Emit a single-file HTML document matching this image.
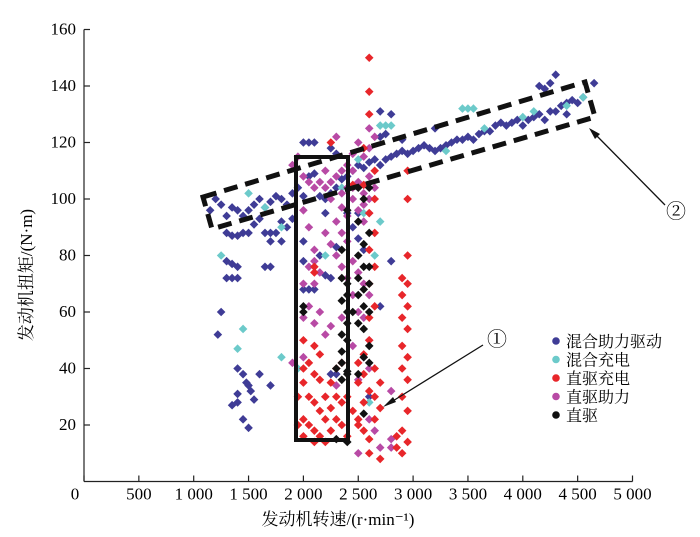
<!DOCTYPE html>
<html><head><meta charset="utf-8"><style>
html,body{margin:0;padding:0;background:#fff;}
svg{display:block;}
text{font-family:"Liberation Serif","Noto Serif CJK SC",serif;}
</style></head><body>
<svg id="chart" width="700" height="537" viewBox="0 0 700 537">
<g id="marks"></g>
<g id="axes"></g>
<rect x="296" y="157" width="52" height="283" fill="none" stroke="#111" stroke-width="4"/>
<polygon points="203,197 585,82 595,117 212,229" fill="none" stroke="#111" stroke-width="5" stroke-dasharray="14,8"/>
<text x="497" y="346" font-size="20" text-anchor="middle" font-family="DejaVu Sans, sans-serif">①</text>
<line x1="483" y1="345" x2="388" y2="404" stroke="#111" stroke-width="1.3"/>
<polygon points="383,407 393,397 396,402" fill="#111"/>
<text x="676" y="218" font-size="20" text-anchor="middle" font-family="DejaVu Sans, sans-serif">②</text>
<line x1="665" y1="205" x2="593" y2="132" stroke="#111" stroke-width="1.3"/>
<polygon points="589,128 600,134 595,139" fill="#111"/>
<g id="legend"></g>
<text transform="translate(32,275) rotate(-90)" font-size="17" text-anchor="middle">发动机扭矩/(N·m)</text>
<text x="338" y="525" font-size="17" text-anchor="middle">发动机转速/(r·min⁻¹)</text>
</svg>
<script>
const xTicks=[0,500,1000,1500,2000,2500,3000,3500,4000,4500,5000];
const xTickLabels=["0","500","1 000","1 500","2 000","2 500","3 000","3 500","4 000","4 500","5 000"];
const yTicks=[20,40,60,80,100,120,140,160];
const seriesNames=["混合助力驱动","混合充电","直驱充电","直驱助力","直驱"];
const seriesColors=["#3f3c96","#6ccaca","#e8262a","#b84aa5","#111111"];
const blue=[[1150,96],[1200,100],[1250,98],[1300,94],[1350,97],[1400,96],[1450,94],[1500,96],[1550,98],[1600,100],[1650,97],[1700,99],[1750,101],[1800,100],[1850,98],[1900,102],[1950,104],[2000,101],[1300,88],[1350,87],[1400,87],[1450,88],[1500,88],[1650,88],[1700,88],[1750,88],[1800,92],[1850,90],[1900,93],[1600,93],[1550,91],[1700,85],[1800,85],[2050,108],[2100,109],[2150,101],[2200,100],[2250,102],[2300,104],[2350,107],[2400,108],[2450,110],[2500,112],[2550,111],[2600,113],[2650,114],[2700,112],[2750,114],[2800,115],[2850,116],[2900,117],[2950,116],[3000,117],[3050,118],[3100,119],[3150,118],[3200,117],[3250,118],[3300,119],[3350,120],[3400,121],[3450,121],[3500,122],[3550,121],[3600,123],[3650,124],[3700,124],[3750,126],[3800,127],[3850,126],[3900,127],[3950,128],[4000,126],[4050,128],[4100,129],[4150,130],[4200,128],[4250,131],[4300,131],[4350,133],[4400,134],[4450,135],[4500,134],[4550,136],[4400,130],[4200,139],[4150,140],[4250,141],[4300,144],[4650,141],[2900,121],[3200,125],[2000,120],[2050,120],[2100,120],[2250,118],[2300,116],[2700,131],[2800,130],[2700,122],[2750,123],[1250,60],[1220,52],[1300,78],[1350,77],[1400,76],[1300,72],[1350,72],[1400,72],[1650,76],[1700,76],[1400,40],[1450,38],[1500,34],[1520,32],[1480,35],[1400,31],[1600,38],[1550,29],[1450,22],[1500,19],[1350,27],[1700,34],[1400,28],[2000,85],[2000,68],[2050,68],[2100,68],[2200,73],[2250,72],[2000,78],[2150,80],[2300,83],[2450,90],[2500,86],[2550,82],[2700,62],[2800,78],[2300,38],[2250,38],[2600,30],[2500,95],[2400,95],[2200,95]];
const cyan=[[1250,80],[1400,47],[1450,54],[1800,44],[1950,40],[1500,102],[1650,97],[3500,132],[3450,132],[3550,132],[2700,126],[2750,126],[2800,126],[2200,80],[2350,104],[2500,114],[3300,117],[4100,131],[4400,133],[4550,136],[4000,129],[3650,125],[2650,80],[2700,92],[2600,28],[2550,95],[1800,90]];
const magenta=[[2000,108],[2050,106],[2100,104],[2150,106],[2200,104],[2250,106],[2300,108],[2350,110],[2400,112],[2450,110],[2500,106],[2550,102],[2600,108],[2550,115],[2500,120],[2300,122],[2250,100],[2350,97],[2450,100],[2500,96],[2550,92],[2600,95],[2300,92],[2350,88],[2400,85],[2450,78],[2300,80],[2350,76],[2400,72],[2500,74],[2550,70],[2600,66],[2100,82],[2100,78],[2150,74],[2100,70],[2000,70],[2050,76],[2000,58],[2050,62],[2100,56],[2150,60],[2200,52],[2250,55],[2350,58],[2450,66],[2550,58],[2600,50],[2550,44],[2600,40],[2500,36],[2300,34],[2200,30],[2600,22],[2650,18],[2700,12],[2500,10],[2800,32],[2800,15],[2800,12],[2450,116],[2600,118],[2650,122],[2600,125],[1900,112],[1950,115],[2000,96],[2050,90],[2200,88],[2250,84],[2400,104],[2450,104],[2350,102],[2200,110],[2550,98],[2600,100],[2650,104],[2400,94],[2500,60],[2450,48],[1900,42],[2000,44]];
const red=[[2000,40],[2050,42],[2100,38],[2150,36],[2000,35],[2050,30],[2100,28],[2150,25],[2000,22],[2050,20],[2100,18],[2150,16],[2200,22],[2250,26],[2200,30],[2250,35],[2300,40],[2350,42],[2300,30],[2350,28],[2300,22],[2350,20],[2400,16],[2250,18],[1950,30],[1950,20],[2000,16],[2100,14],[2200,14],[2400,30],[2450,25],[2500,22],[2550,28],[2500,35],[2550,38],[2600,32],[2500,42],[2550,45],[2600,50],[2600,58],[2650,62],[2600,70],[2650,76],[2600,82],[2650,88],[2600,95],[2650,100],[2650,110],[2550,105],[2450,105],[2600,130],[2600,138],[2600,150],[2550,118],[2500,20],[2550,18],[2600,15],[2650,22],[2700,26],[2650,30],[2700,35],[2650,40],[2600,10],[2700,8],[2900,72],[2950,70],[2900,66],[2950,62],[2900,58],[2950,54],[2900,48],[2950,44],[2900,40],[2950,36],[2900,30],[2950,25],[2850,16],[2900,18],[2950,14],[2850,12],[2900,10],[2950,80],[2950,100],[2950,110],[2100,74],[2100,76],[2250,120],[2000,50],[2100,48],[2150,45]];
const black=[[2000,62],[2000,60],[2350,82],[2350,72],[2400,70],[2400,66],[2350,64],[2400,60],[2400,56],[2350,52],[2400,50],[2350,46],[2350,42],[2300,40],[2400,38],[2350,36],[2400,39],[2500,56],[2450,60],[2500,66],[2550,62],[2500,72],[2550,76],[2500,80],[2550,84],[2600,88],[2600,70],[2600,60],[2550,54],[2600,48],[2550,44],[2600,42],[2500,38],[2500,104],[2550,100],[2600,104],[2400,96],[2300,15],[2550,24],[2400,14],[2500,92],[2550,68],[2600,76]];

const X0=84, XS=0.1097, Y0=481.5, YS=2.825;
function sx(v){return X0+v*XS;}
function sy(v){return Y0-v*YS;}
const NS="http://www.w3.org/2000/svg";
function mk(tag,attrs,parent){const e=document.createElementNS(NS,tag);for(const k in attrs)e.setAttribute(k,attrs[k]);parent.appendChild(e);return e;}

const marks=document.getElementById('marks');
const allSeries=[blue,cyan,red,magenta,black];
const order=[0,1,3,2,4];
const seriesKeys=["hybrid-assist-drive","hybrid-charge","direct-charge","direct-assist","direct-drive"];
order.forEach(function(si){
  const g=mk('g',{},marks);
  
  
  allSeries[si].forEach(function(p){
    const x=sx(p[0]),y=sy(p[1]),r=4.3;
    const pts=x+','+(y-r)+' '+(x+r)+','+y+' '+x+','+(y+r)+' '+(x-r)+','+y;
    const d=mk('polygon',{points:pts,fill:seriesColors[si]},g);
    
    
  });
});

const axes=document.getElementById('axes');
const ya=mk('line',{x1:X0,y1:Y0,x2:X0,y2:sy(160),stroke:'#222','stroke-width':1.2},axes);


const xa=mk('line',{x1:X0,y1:Y0,x2:sx(5000),y2:Y0,stroke:'#222','stroke-width':1.2},axes);


xTicks.forEach(function(t,i){
  const tk=mk('line',{x1:sx(t),y1:Y0,x2:sx(t),y2:Y0-6,stroke:'#222','stroke-width':1.2},axes);
  
  
  const lb=mk('text',{x:(i===0?X0-9:sx(t)),y:Y0+18,'font-size':17,'text-anchor':'middle'},axes);
  lb.textContent=xTickLabels[i];
  
  
});
yTicks.forEach(function(t){
  const tk=mk('line',{x1:X0,y1:sy(t),x2:X0+6,y2:sy(t),stroke:'#222','stroke-width':1.2},axes);
  
  
  const lb=mk('text',{x:X0-8,y:sy(t)+5,'font-size':17,'text-anchor':'end'},axes);
  lb.textContent=String(t);
  
  
});

const legend=document.getElementById('legend');
seriesNames.forEach(function(n,i){
  const y=341+i*18.5;
  const g=mk('g',{},legend);
  
  
  const c=mk('circle',{cx:556,cy:y,r:3.8,fill:seriesColors[i]},g);
  
  
  const t=mk('text',{x:566,y:y+6,'font-size':16},g);
  t.textContent=n;
  
  
});
</script>
</body></html>
